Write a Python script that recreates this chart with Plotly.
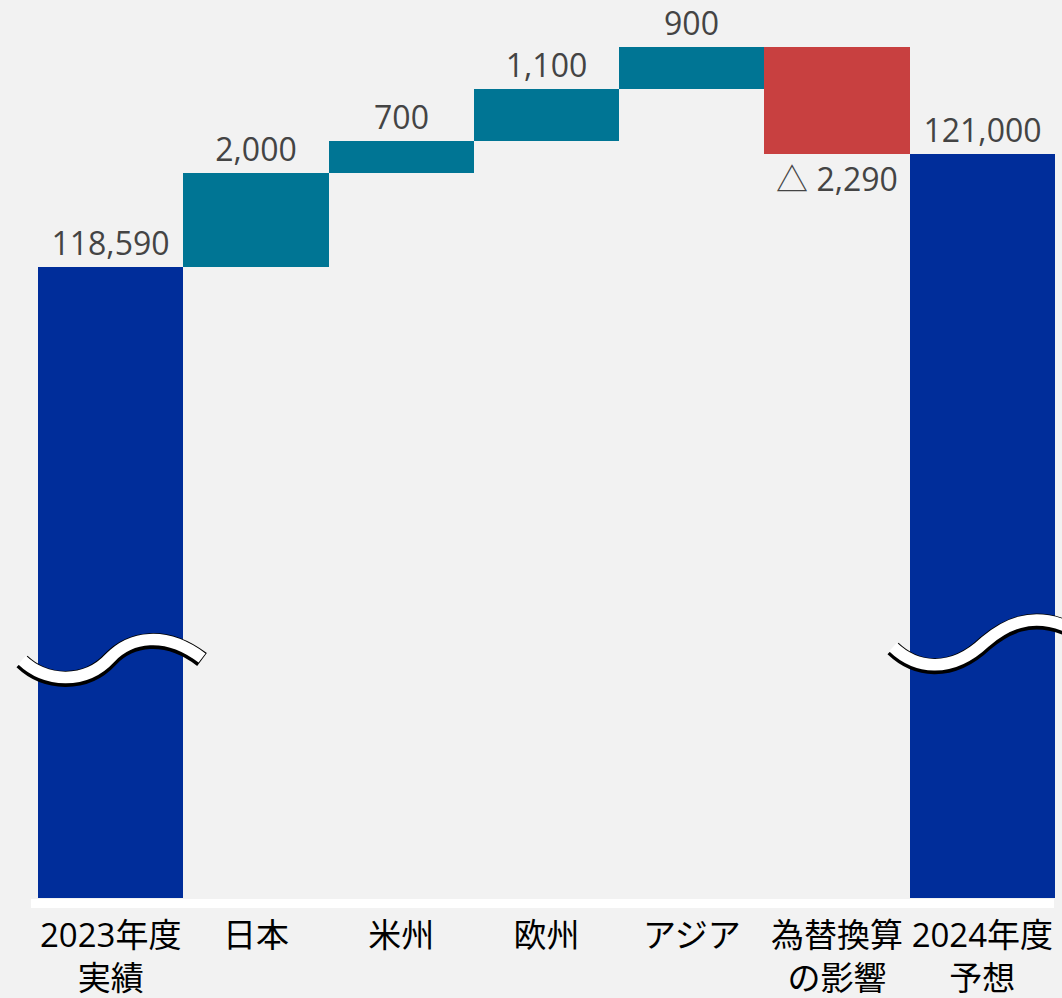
import plotly.graph_objects as go

categories = ["2023年度<br>実績", "日本", "米州", "欧州", "アジア", "為替換算<br>の影響", "2024年度<br>予想"]
measures = ["absolute", "relative", "relative", "relative", "relative", "relative", "total"]
values = [118590, 2000, 700, 1100, 900, -2290, 121000]
value_labels = ["118,590", "2,000", "700", "1,100", "900", "△ 2,290", "121,000"]

W, H = 1062, 998
ML, MR, MT, MB = 38, 7, 0, 100
PW, PH = W - ML - MR, H - MT - MB

FONT = "Open Sans, Noto Sans CJK JP, sans-serif"

fig = go.Figure(go.Waterfall(
    x=categories,
    y=values,
    measure=measures,
    text=value_labels,
    textposition="outside",
    textfont=dict(size=32, color="#444444", family=FONT),
    cliponaxis=False,
    constraintext="none",
    connector=dict(visible=False),
    increasing=dict(marker=dict(color="#007594")),
    decreasing=dict(marker=dict(color="#c84040")),
    totals=dict(marker=dict(color="#002d9a")),
    hoverinfo="skip",
))


def px_path(segs):
    """Convert a pixel-space path description into paper coordinates."""
    out = []
    for cmd, pts in segs:
        coords = []
        for (x, y) in pts:
            coords.append(f"{(x - ML) / PW:.5f},{(MT + PH - y) / PH:.5f}")
        out.append(cmd + " " + " ".join(coords))
    return " ".join(out)


left_wave = [("M", [(22, 660)]), ("C", [(45, 682), (85, 685), (110, 658)]),
             ("C", [(130, 637), (165, 630), (202, 658)])]
right_wave = [("M", [(893, 647)]), ("C", [(915, 668), (950, 675), (985, 642)]),
              ("C", [(1005, 625), (1030, 612), (1066, 626)])]


def shifted(segs, dy):
    return [(c, [(x, y + dy) for (x, y) in p]) for c, p in segs]


shapes = []
for wave in (left_wave, right_wave):
    shapes.append(dict(type="path", xref="paper", yref="paper", path=px_path(shifted(wave, 1.5)),
                       line=dict(color="black", width=16), layer="above"))
    shapes.append(dict(type="path", xref="paper", yref="paper", path=px_path(wave),
                       line=dict(color="white", width=11.5), layer="above"))

# white band under the plot area
shapes.append(dict(type="rect", xref="paper", yref="paper",
                   x0=(31 - ML) / PW, x1=(1054 - ML) / PW,
                   y0=-10 / PH, y1=-1 / PH,
                   fillcolor="white", line=dict(width=0), layer="above"))

fig.update_layout(
    width=W, height=H,
    margin=dict(l=ML, r=MR, t=MT, b=MB, autoexpand=False),
    paper_bgcolor="#f2f2f2",
    plot_bgcolor="#f2f2f2",
    waterfallgap=0,
    showlegend=False,
    shapes=shapes,
    font=dict(family=FONT),
    xaxis=dict(showgrid=False, zeroline=False, showline=False, automargin=False,
               ticks="outside", ticklen=8, tickcolor="rgba(0,0,0,0)",
               tickfont=dict(size=33, color="black", family=FONT)),
    yaxis=dict(range=[105110, 124294], showgrid=False, zeroline=False, automargin=False,
               showticklabels=False, showline=False),
)

fig.write_html("out.html")
